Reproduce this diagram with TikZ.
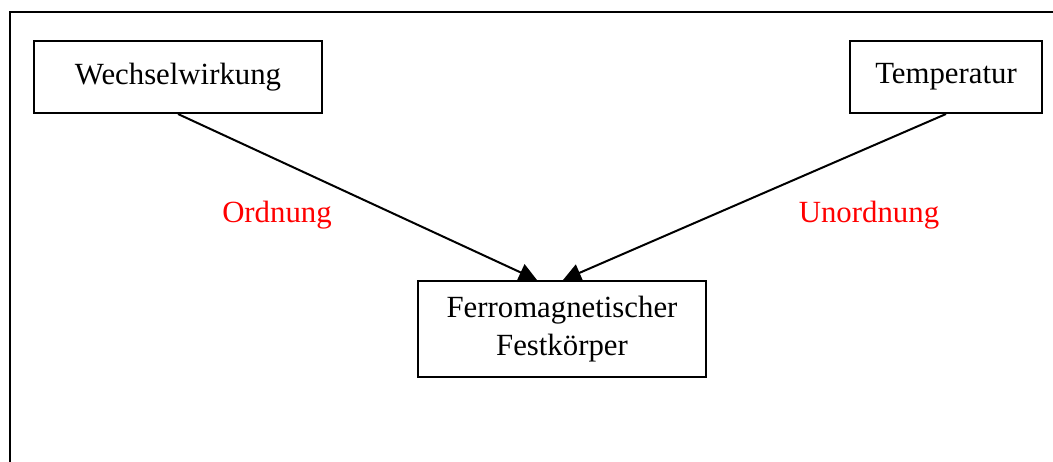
\documentclass[tikz,border=0pt]{standalone}
\usepackage{fontspec}
\setmainfont{Liberation Serif}
\usetikzlibrary{arrows.meta}
\tikzset{>={Triangle[length=18pt,width=18pt]}}
\tikzset{
  kasten/.style = {draw, line width=2pt, inner sep=0pt, align=center,
                   font=\fontsize{30.8}{38}\selectfont},
  marke/.style  = {text=red, font=\fontsize{30.8}{38}\selectfont},
}

\begin{document}
\begin{tikzpicture}[x=1pt, y=-1pt, line width=2pt]

\useasboundingbox (0,0) rectangle (1053,461);
\draw (10,12) rectangle (1070,480);

\node[kasten, minimum width=288pt, minimum height=72pt] (wech) at (178,77) {Wechselwirkung};
\node[kasten, minimum width=192pt, minimum height=72pt] (temp) at (946,77) {Temperatur};
\node[kasten, minimum width=288pt, minimum height=96pt] (ferro) at (562,329) {Ferromagnetischer\\Festkörper};

\node[marke] (ord) at (277,215) {Ordnung};
\node[marke] (unord) at (869,215) {Unordnung};

\draw[->] (wech.south) -- ([xshift=-25pt]ferro.north);
\draw[->] (temp.south) -- ([xshift=1pt]ferro.north);

\end{tikzpicture}
\end{document}
